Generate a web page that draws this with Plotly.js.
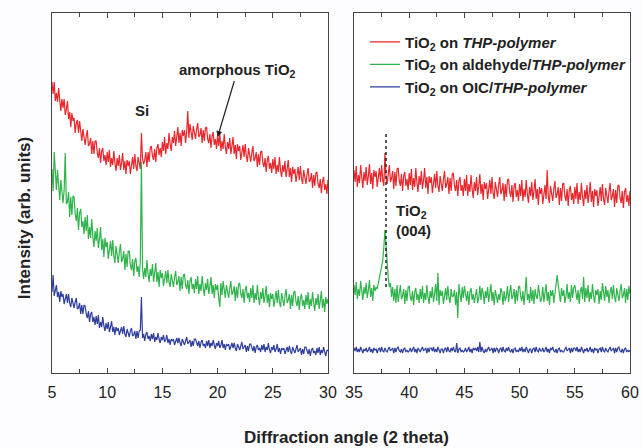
<!DOCTYPE html>
<html>
<head>
<meta charset="utf-8">
<script src="https://cdn.plot.ly/plotly-3.0.1.min.js"></script>
<style>html,body{margin:0;padding:0;background:#fdfdff;}#chart{width:643px;height:448px;}</style>
</head>
<body>
<div id="chart"></div>
<script>
// ---- data (intensity, arbitrary units), sampled every 0.1 degree ----
var leftStart = 5, rightStart = 35, angleStep = 0.1;
var seriesNames = [
  "<b>TiO<sub>2</sub> on <i>THP-polymer</i></b>",
  "<b>TiO<sub>2</sub> on aldehyde/<i>THP-polymer</i></b>",
  "<b>TiO<sub>2</sub> on OIC/<i>THP-polymer</i></b>"
];
var redLeft = [
291,279,291,272,280,271,285,271,262,274,
265,274,258,264,272,254,261,246,260,252,
255,240,250,253,240,252,238,232,244,234,
228,237,243,227,229,235,219,232,219,232,
232,220,215,225,210,222,225,212,218,208,
221,211,223,206,215,208,222,210,202,215,
207,218,203,210,220,203,212,199,213,207,
212,199,211,216,204,219,207,202,216,209,
204,240,214,209,213,221,206,221,211,225,
227,217,213,224,211,225,229,218,225,216,
231,222,236,219,230,224,240,229,222,236,
230,242,227,236,246,230,240,227,243,237,
243,230,241,262,235,249,237,233,247,239,
234,244,250,236,238,245,230,243,232,245,
246,234,230,239,225,237,241,228,234,224,
238,227,240,222,232,224,239,226,219,231,
224,235,219,227,236,219,228,214,229,222,
227,213,224,228,216,229,217,211,225,216,
211,220,227,212,215,221,206,219,208,221,
222,210,206,215,201,213,217,204,210,200,
214,204,216,199,208,201,216,203,196,208,
201,212,196,204,213,196,205,191,206,199,
204,191,201,206,193,207,195,189,203,194,
189,199,205,191,193,200,185,198,187,200,
201,189,185,194,180,192,196,183,189,179,
193];
var greenLeft = [
204,182,221,203,183,203,182,173,193,179,
170,183,220,169,171,181,156,176,158,177,
176,159,152,165,143,160,164,146,152,139,
156,142,158,134,146,135,154,137,126,142,
132,145,125,134,146,123,134,116,135,126,
131,114,126,132,117,133,117,110,127,117,
110,121,129,111,114,122,103,119,106,122,
122,108,103,114,97,112,115,101,107,96,
112,211,104,94,105,96,113,99,91,104,
97,109,91,100,110,91,101,86,103,95,
100,87,97,102,90,103,91,86,99,91,
86,96,102,88,91,97,82,96,84,98,
99,88,84,93,79,92,96,84,89,80,
94,84,97,79,89,82,97,85,77,90,
83,94,79,86,96,79,88,75,89,83,
88,75,66,90,78,92,80,75,88,80,
75,85,92,78,81,87,72,86,75,89,
90,79,75,84,70,83,87,75,80,71,
85,75,88,70,80,73,88,76,68,81,
74,85,70,77,87,70,79,66,80,74,
79,66,77,82,70,83,71,66,80,72,
67,77,84,70,73,79,64,78,67,81,
82,71,67,77,63,75,79,67,73,64,
78,68,81,64,74,67,81,70,62,75,
68,79,64,72,82,65,74,61,76,69,
74];
var blueLeft = [
81,98,77,82,88,76,81,71,82,76,
79,69,76,79,70,79,70,66,75,70,
65,71,75,64,65,70,59,68,59,68,
67,59,55,62,51,59,61,51,56,48,
57,49,58,45,51,46,56,47,42,50,
44,51,41,46,52,41,46,38,46,42,
45,38,43,46,39,47,39,36,44,39,
36,42,45,37,38,42,34,42,35,42,
43,76,35,39,32,39,41,34,37,32,
39,34,40,31,36,33,40,34,30,36,
33,38,31,33,38,30,34,28,34,32,
34,28,33,35,30,35,30,27,34,30,
28,32,36,29,31,33,26,32,27,34,
34,29,27,32,25,31,33,27,29,25,
32,27,33,25,30,27,33,28,24,30,
27,32,25,28,33,25,29,23,29,27,
29,23,28,30,25,30,25,22,29,25,
23,27,31,24,26,28,21,27,22,29,
29,24,22,27,20,26,28,23,25,21,
28,23,29,21,26,23,30,23,20,26,
23,28,21,24,29,21,25,19,25,23,
25,19,24,26,21,27,22,19,26,22,
20,24,28,21,23,25,18,24,19,26,
26,21,19,24,17,23,25,20,22,18,
25,20,26,18,23,20,26,21,17,23,
22];
var redRight = [
203,191,207,186,198,190,208,194,185,201,
192,206,188,197,209,189,200,184,203,196,
202,186,199,205,191,208,193,187,220,195,
189,201,208,191,195,202,184,201,187,204,
205,192,187,199,182,197,201,187,194,183,
200,188,204,183,195,186,205,190,181,197,
188,202,184,193,205,185,196,179,197,190,
196,180,193,199,185,202,187,181,197,188,
182,194,202,185,189,196,179,195,182,199,
200,187,182,193,177,192,196,182,188,177,
194,182,198,177,189,181,198,184,175,191,
182,196,178,187,199,179,189,173,191,184,
190,174,187,193,179,196,180,174,191,182,
176,188,196,179,183,190,172,189,176,193,
194,181,176,188,171,187,190,176,183,172,
189,177,193,172,184,176,193,179,170,186,
177,191,173,182,194,174,184,168,186,179,
185,169,182,188,174,203,176,170,187,178,
172,184,192,175,179,186,168,185,172,189,
190,177,172,184,167,183,187,173,180,169,
186,174,190,169,181,173,190,176,167,183,
174,188,170,179,191,171,182,166,184,177,
183,167,180,186,172,189,174,168,185,176,
170,182,190,173,177,184,166,183,170,187,
188,175,170,182,165,181,185,171,178,167,
182];
var greenRight = [
88,78,91,74,84,77,92,80,73,86,
79,90,75,83,93,76,85,72,88,82,
86,84,90,94,100,104,112,125,143,128,
108,96,86,90,76,86,72,84,70,88,
71,81,88,74,77,84,69,83,72,86,
87,76,72,82,68,81,85,73,79,70,
84,74,87,70,80,73,88,76,69,82,
75,86,71,79,89,72,100,68,83,77,
82,69,80,85,73,87,75,70,84,76,
77,83,68,81,55,89,79,71,86,75,
87,76,72,82,68,81,85,73,79,70,
76,84,70,75,87,73,85,80,69,82,
75,86,71,79,89,72,81,68,83,77,
70,79,73,85,81,68,82,72,76,87,
71,81,88,74,77,84,69,83,72,86,
87,76,72,82,68,81,96,73,79,70,
86,72,83,69,84,77,74,88,81,71,
75,86,71,79,89,72,81,68,83,77,
83,70,81,86,98,88,76,71,85,77,
83,70,77,89,74,81,71,88,75,85,
88,77,73,83,69,82,86,74,96,71,
85,75,88,71,81,74,89,77,70,83,
78,84,69,82,73,90,80,72,87,76,
83,70,81,86,74,88,76,71,85,77,
72,82,89,75,78,85,70,84,73,87,
79];
var blueRight = [
25,22,26,21,24,21,26,22,20,24,
22,25,21,23,26,21,24,20,25,23,
24,20,24,25,21,26,22,21,25,22,
21,24,26,22,23,25,20,25,21,25,
26,22,21,24,20,24,25,21,23,21,
22,25,21,23,26,21,24,20,25,23,
21,24,26,22,23,25,20,25,21,25,
25,22,26,21,24,21,26,22,20,24,
24,20,24,25,21,26,22,21,25,22,
26,22,21,30,20,24,25,21,23,21,
22,25,21,23,26,21,24,20,25,23,
25,22,26,21,31,21,26,22,20,24,
21,24,26,22,23,25,20,25,21,25,
24,20,24,25,21,26,22,21,25,22,
26,22,21,24,20,24,25,21,23,21,
25,22,26,21,24,21,26,22,20,24,
24,20,24,25,21,26,22,21,25,22,
22,25,21,23,26,21,24,20,25,23,
26,22,21,24,20,24,25,21,23,21,
21,24,26,22,23,25,20,25,21,25,
25,22,26,21,24,21,26,22,20,24,
22,25,21,23,26,21,24,20,25,23,
24,20,24,25,21,26,22,21,25,22,
21,24,26,22,23,25,20,25,21,25,
26,22,21,24,20,24,25,21,23,21,
23];
var leftTicks = [5, 10, 15, 20, 25, 30];
var rightTicks = [35, 40, 45, 50, 55, 60];

// ---- build ----
function grid(start, n) { var a = []; for (var i = 0; i < n; i++) a.push(+(start + i * angleStep).toFixed(2)); return a; }
var colors = ["#e8262b", "#2fb34b", "#2f3d9c"];
var leftY = [redLeft, greenLeft, blueLeft], rightY = [redRight, greenRight, blueRight];
var traces = [];
for (var k = 0; k < 3; k++) {
  traces.push({x: grid(leftStart, leftY[k].length), y: leftY[k], xaxis: "x", yaxis: "y", type: "scatter", mode: "lines",
    name: seriesNames[k], legendgroup: "g" + k, line: {color: colors[k], width: 1.2}});
}
for (var k = 0; k < 3; k++) {
  traces.push({x: grid(rightStart, rightY[k].length), y: rightY[k], xaxis: "x2", yaxis: "y2", type: "scatter", mode: "lines",
    name: seriesNames[k], legendgroup: "g" + k, showlegend: false, line: {color: colors[k], width: 1.2}});
}
var fontFam = "Arial, 'Liberation Sans', sans-serif";
var axCol = "#444";
function xax(dom, rng, ticks, anchor) {
  return {domain: dom, range: rng, tickvals: ticks, ticks: "inside", ticklen: 5, tickcolor: axCol, tickwidth: 1,
    minor: {dtick: 2.5, tick0: 0, ticks: "inside", ticklen: 4, tickcolor: axCol},
    showline: true, linecolor: axCol, linewidth: 1, mirror: "ticks", showgrid: false, zeroline: false,
    ticklabelstandoff: 5,
    tickfont: {family: fontFam, size: 16, color: "#222"}, anchor: anchor, fixedrange: true};
}
function yax(anchor) {
  return {range: [0, 360], showline: true, linecolor: axCol, linewidth: 1, mirror: true, ticks: "",
    showticklabels: false, showgrid: false, zeroline: false, anchor: anchor, fixedrange: true};
}
var layout = {
  width: 643, height: 448,
  margin: {l: 52, r: 13, t: 13, b: 75},
  paper_bgcolor: "#fdfdff", plot_bgcolor: "#ffffff",
  font: {family: fontFam, color: "#222"},
  showlegend: true,
  legend: {x: 0.5415, y: 0.965, xanchor: "left", yanchor: "top", bgcolor: "rgba(0,0,0,0)",
    font: {family: fontFam, size: 15, color: "#222"}, tracegroupgap: 0},
  xaxis: xax([0, 0.4775], [5, 30], leftTicks, "y"),
  xaxis2: xax([0.5225, 1], [35, 60], rightTicks, "y2"),
  yaxis: yax("x"),
  yaxis2: yax("x2"),
  shapes: [
    {type: "line", xref: "x2", yref: "y2", x0: 37.9, x1: 37.9, y0: 86, y1: 241,
      line: {color: "#222", width: 1.5, dash: "dot"}}
  ],
  annotations: [
    {xref: "x", yref: "y", x: 13.15, y: 263, text: "<b>Si</b>", showarrow: false,
      font: {family: fontFam, size: 15, color: "#222"}},
    {xref: "x", yref: "y", x: 20.0, y: 236, ax: 20, ay: -67, text: "<b>amorphous TiO<sub>2</sub></b>",
      showarrow: true, arrowhead: 2, arrowsize: 1, arrowwidth: 1.2, arrowcolor: "#222", standoff: 0,
      font: {family: fontFam, size: 15, color: "#222"}},
    {xref: "x2", yref: "y2", x: 38.65, y: 153, xanchor: "left", align: "left",
      text: "<b>TiO<sub>2</sub><br>(004)</b>", showarrow: false,
      font: {family: fontFam, size: 15, color: "#222"}},
    {xref: "paper", yref: "paper", x: -0.0484, y: 0.43, xanchor: "center", yanchor: "middle", textangle: -90,
      text: "<b>Intensity (arb. units)</b>", showarrow: false,
      font: {family: fontFam, size: 17, color: "#222"}},
    {xref: "paper", yref: "paper", x: 0.51, y: -0.18, xanchor: "center", yanchor: "middle",
      text: "<b>Diffraction angle (2 theta)</b>", showarrow: false,
      font: {family: fontFam, size: 17, color: "#222"}}
  ]
};
Plotly.newPlot("chart", traces, layout, {displayModeBar: false, staticPlot: true});
</script>
</body>
</html>
